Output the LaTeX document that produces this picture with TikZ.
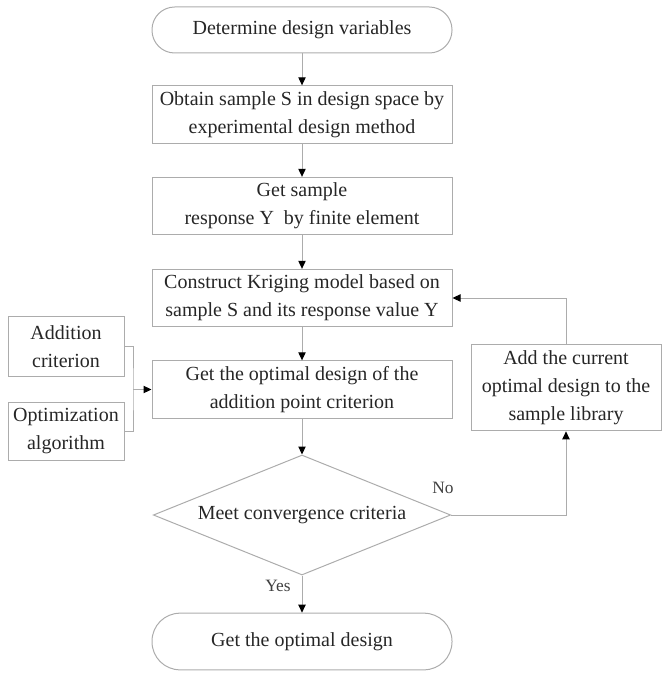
\documentclass[tikz,border=0pt]{standalone}
\usepackage{fontspec}
\setmainfont{Liberation Serif}
\usetikzlibrary{shapes.geometric,arrows.meta}

\begin{document}
\begin{tikzpicture}[x=0.75pt,y=-0.75pt]
		\tikzstyle{box} = [draw=gray!65, line width=0.75pt, text=black!85, align=center, inner sep=0pt, font=\fontsize{15}{21}\selectfont]
		\tikzstyle{term} = [box, rounded corners=17pt, minimum width=225pt]
		\tikzstyle{stepbox} = [box, minimum width=225pt, minimum height=43pt]
		\tikzstyle{sidebox} = [box, minimum width=87pt]
		\tikzstyle{decide} = [box, diamond, aspect=2.5, minimum width=223pt, minimum height=90pt]
		\tikzstyle{flow} = [draw=gray!65, line width=0.75pt, -{Triangle[length=6pt, width=5.5pt, color=black]}]
		\tikzstyle{lbl} = [text=black!75, inner sep=0pt, font=\fontsize{13}{15}\selectfont]

		\useasboundingbox (0,0) rectangle (662,673);

		\node[term, minimum height=34.5pt] (start) at (302,30) {Determine design variables};
		\node[stepbox] (sample) at (302,114.5) {Obtain sample S in design space by\\experimental design method};
		\node[stepbox] (response) at (302,206) {Get sample\\response Y\ \ by finite element};
		\node[stepbox] (kriging) at (302,298) {Construct Kriging model based on\\sample S and its response value Y};
		\node[stepbox] (optimal) at (302,389.5) {Get the optimal design of the\\addition point criterion};
		\node[decide] (conv) at (302,515) {Meet convergence criteria};
		\node[term, minimum height=42.5pt, rounded corners=21pt] (stop) at (302,641.5) {Get the optimal design};

		\node[sidebox, minimum height=45.5pt] (crit) at (66,346.5) {Addition\\criterion};
		\node[sidebox, minimum height=43.5pt] (algo) at (66,431) {Optimization\\algorithm};
		\node[box, minimum width=142.5pt, minimum height=65pt] (add) at (566,387.5) {Add the current\\optimal design to the\\sample library};

		\node[lbl] (no) at (443,488) {No};
		\node[lbl] (yes) at (278,586) {Yes};

		\coordinate (join) at (133,389.5);

		\draw[flow] (start) -- (sample);
		\draw[flow] (sample) -- (response);
		\draw[flow] (response) -- (kriging);
		\draw[flow] (kriging) -- (optimal);
		\draw[flow] (optimal) -- (conv);
		\draw[flow] (conv) -- (stop);
		\draw[flow] (conv.east) -| (add.south);
		\draw[flow] (add.north) |- (kriging.east);
		\draw[draw=gray!65, line width=0.75pt] (crit.east) -| (join) |- (algo.east);
		\draw[flow] (join) -- (optimal.west);
\end{tikzpicture}
\end{document}
